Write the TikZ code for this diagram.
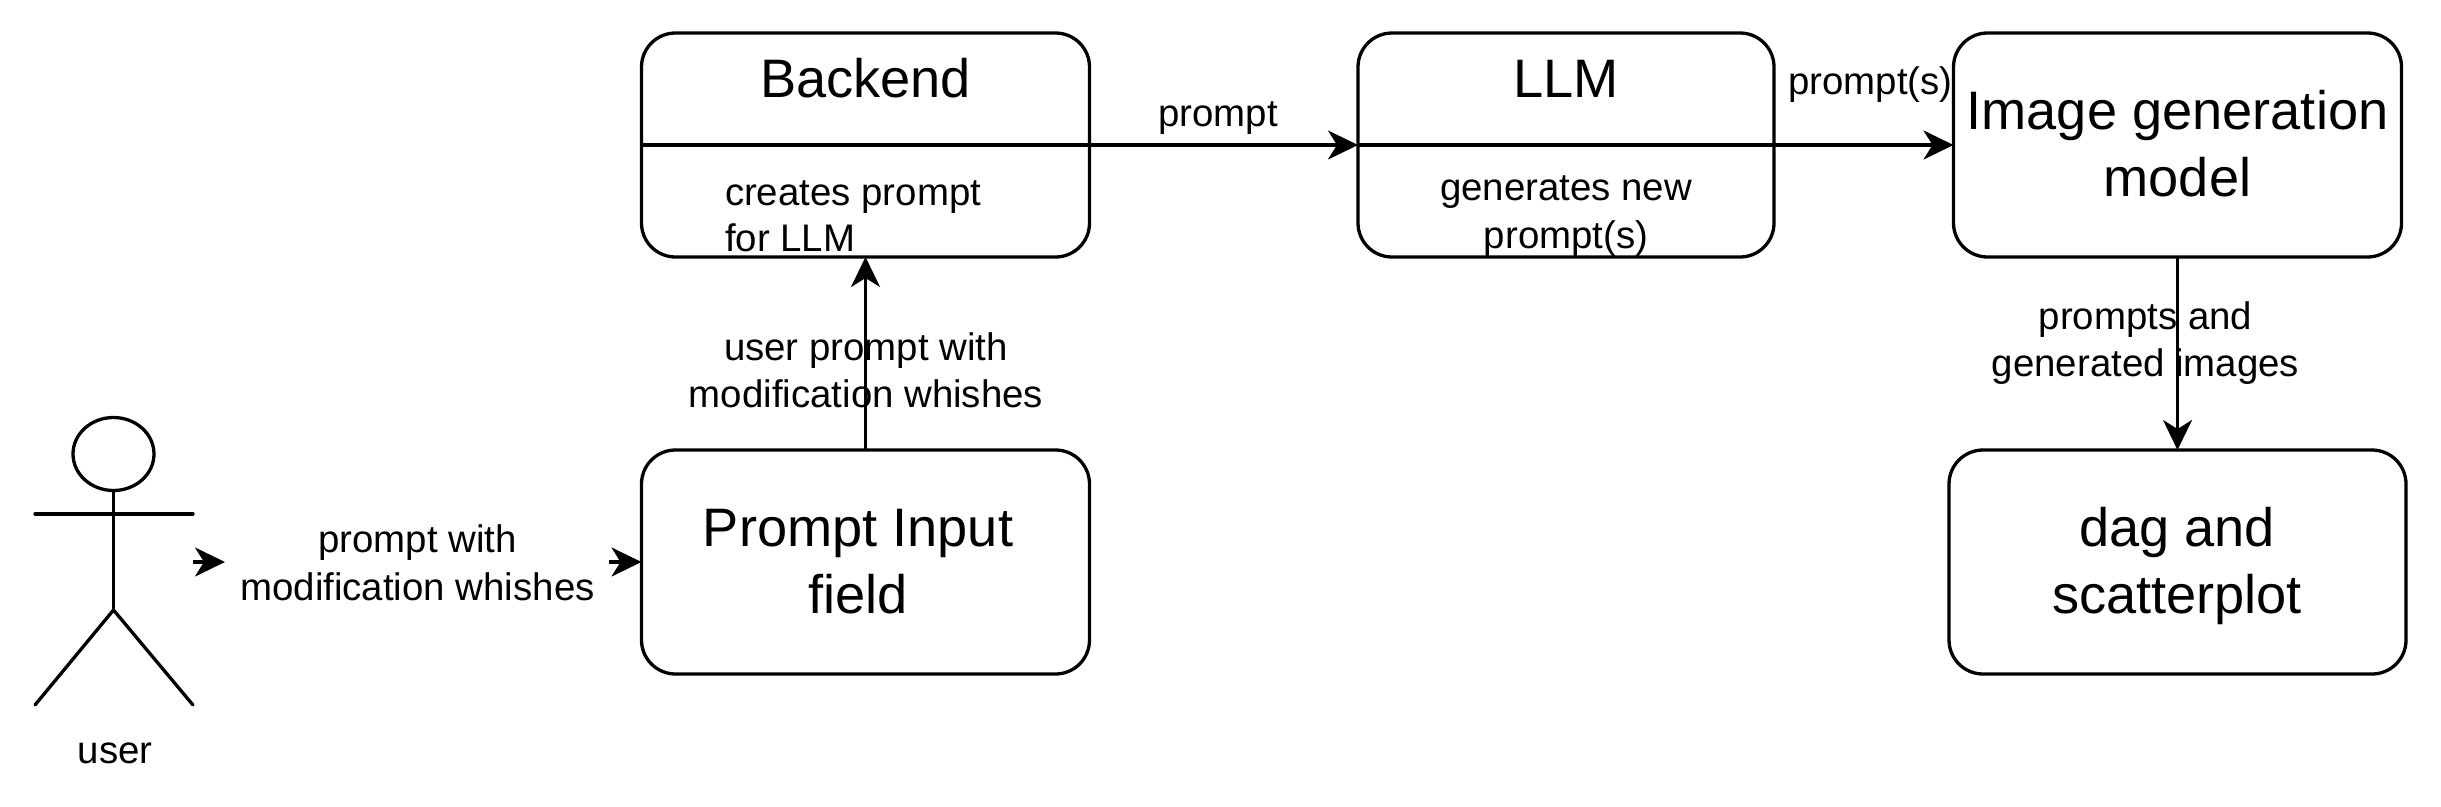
\documentclass[tikz,border=0pt]{standalone}
\usepackage{fontspec}
\setmainfont{Liberation Sans}
\usetikzlibrary{arrows.meta,shapes.geometric}
\tikzset{
  box/.style={draw=black,line width=3.3pt,rounded corners=34pt,inner sep=0pt,outer sep=0pt,minimum height=224pt},
  big/.style={inner sep=0pt,outer sep=0pt,align=center,font=\fontsize{54.2}{67}\selectfont,anchor=base},
  small/.style={inner sep=0pt,outer sep=0pt,align=center,font=\fontsize{38.4}{47.5}\selectfont,anchor=base},
  smallleft/.style={small,align=left,anchor=base west,font=\fontsize{38.4}{45.5}\selectfont},
  link/.style={draw=black,line width=3.3pt,-{Stealth[length=30pt,width=29pt,inset=9pt]}},
  limb/.style={draw=black,line width=3.3pt,line cap=round}
}
\begin{document}
\begin{tikzpicture}[x=1pt,y=-1pt]
\useasboundingbox[fill=white] (0,0) rectangle (2441,806);
% boxes
\node[box,minimum width=448pt] (backend) at (865.5,145) {};
\node[box,minimum width=416pt] (llm) at (1566,145) {};
\node[box,minimum width=448pt] (image) at (2177.5,145) {};
\node[box,minimum width=448pt] (prompt) at (865.5,562) {};
\node[box,minimum width=457pt] (dag) at (2177.5,562) {};
% box texts
\node[big] (tbackend) at (865.5,97) {Backend};
\node[big] (tllm) at (1566,97) {LLM};
\node[big] (timage) at (2177.5,196.5) {Image generation\\model};
\node[big] (tprompt) at (858,613) {Prompt Input\\field};
\node[big] (tdag) at (2177,613) {dag and\\scatterplot};
\node[smallleft] (tcreates) at (725,251) {creates prompt\\for LLM};
\node[small] (tgen) at (1566,248) {generates new\\prompt(s)};
% stick figure
\node[draw=black,line width=3.3pt,ellipse,minimum width=81pt,minimum height=73pt,inner sep=0pt,outer sep=0pt] (head) at (113.5,454) {};
\coordinate (hip) at (113.5,610);
\coordinate (armL) at (35,514);
\coordinate (armR) at (193,514);
\coordinate (footL) at (35,705);
\coordinate (footR) at (193,705);
\draw[limb] (head.south) -- (hip);
\draw[limb] (armL) -- (armR);
\draw[limb] (footL) -- (hip) -- (footR);
\node[small] (tuser) at (115,763.5) {user};
% connectors
\coordinate (userout) at (193,562);
\coordinate (lablin) at (225,562);
\coordinate (labout) at (609,562);
\draw[link] (userout) -- (lablin);
\draw[link] (labout) -- (prompt.west);
\draw[link] (prompt.north) -- (backend.south);
\draw[link] (backend.west) -- (llm.west);
\draw[link] (llm.west) -- (image.west);
\draw[link] (image.south) -- (dag.north);
% labels
\node[small] (lwith) at (417.5,600) {prompt with\\modification whishes};
\node[small] (luser) at (866,407.5) {user prompt with\\modification whishes};
\node[small] (lprompt) at (1218,126.5) {prompt};
\node[small] (lprompts) at (1870.5,94.5) {prompt(s)};
\node[small] (lgen) at (2145.5,376.5) {prompts and\\generated images};
\end{tikzpicture}
\end{document}
